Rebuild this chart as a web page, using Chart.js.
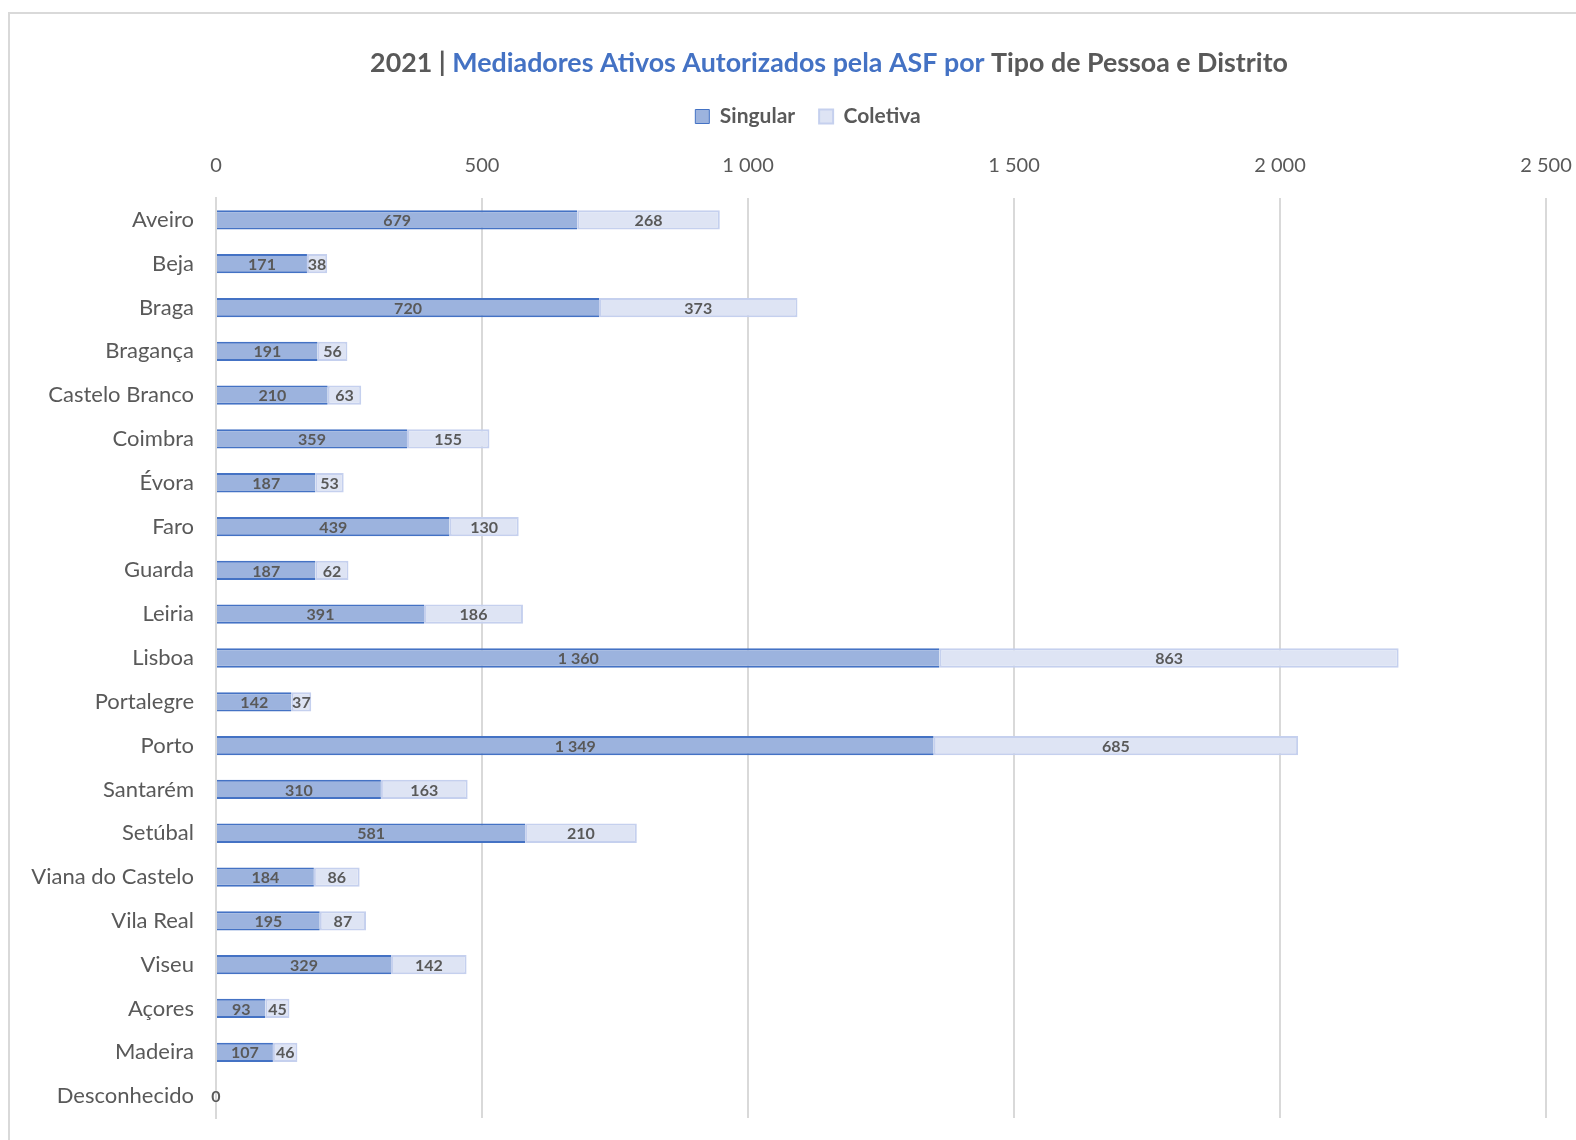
<!DOCTYPE html>
<html>
<head>
<meta charset="utf-8">
<script src="https://cdn.jsdelivr.net/npm/chart.js@4.4.1/dist/chart.umd.min.js"></script>
<style>
  body { margin: 0; background: #fff; }
  #frame { position: absolute; left: 8px; top: 12px; width: 1700px; height: 1300px;
           border-left: 2px solid #d9d9d9; border-top: 2px solid #d9d9d9; }
  #chart { position: absolute; left: 0; top: 0; }
</style>
</head>
<body>
<div id="frame"></div>
<canvas id="chart" width="1576" height="1140"></canvas>
<script>
const districts = ['Aveiro', 'Beja', 'Braga', 'Bragança', 'Castelo Branco', 'Coimbra', 'Évora', 'Faro',
  'Guarda', 'Leiria', 'Lisboa', 'Portalegre', 'Porto', 'Santarém', 'Setúbal', 'Viana do Castelo',
  'Vila Real', 'Viseu', 'Açores', 'Madeira', 'Desconhecido'];
const singular = [679, 171, 720, 191, 210, 359, 187, 439, 187, 391, 1360, 142, 1349, 310, 581, 184, 195, 329, 93, 107, 0];
const coletiva = [268, 38, 373, 56, 63, 155, 53, 130, 62, 186, 863, 37, 685, 163, 210, 86, 87, 142, 45, 46, null];
const xTicks = [0, 500, 1000, 1500, 2000, 2500];

const titleParts = [
  { text: '2021 | ', color: '#595959' },
  { text: 'Mediadores Ativos Autorizados pela ASF por ', color: '#4472C4' },
  { text: 'Tipo de Pessoa e Distrito', color: '#595959' }
];

const grey = '#595959';
const fmt = v => String(v).replace(/\B(?=(\d{3})+(?!\d))/g, ' ');

// title with mixed colours
const titlePlugin = {
  id: 'mixedTitle',
  afterLayout(chart) {
    // legend sits a little right of the canvas centre in the original
    chart.legend.left += 35;
    chart.legend.right += 35;
    chart.legend.top += 3;
    chart.legend.bottom += 3;
  },
  afterDraw(chart) {
    const ctx = chart.ctx;
    ctx.save();
    ctx.font = 'bold 26.8px Lato';
    ctx.textBaseline = 'middle';
    const total = titleParts.reduce((s, p) => s + ctx.measureText(p.text).width, 0);
    let x = 829 - total / 2;
    titleParts.forEach(p => {
      ctx.fillStyle = p.color;
      ctx.fillText(p.text, x, 63);
      x += ctx.measureText(p.text).width;
    });
    ctx.restore();
  }
};

// value labels in the middle of each segment
const labelPlugin = {
  id: 'segLabels',
  afterDatasetsDraw(chart) {
    const ctx = chart.ctx;
    ctx.save();
    ctx.font = 'bold 16px Lato';
    ctx.fillStyle = grey;
    ctx.textAlign = 'center';
    ctx.textBaseline = 'middle';
    chart.data.datasets.forEach((ds, i) => {
      const meta = chart.getDatasetMeta(i);
      meta.data.forEach((el, j) => {
        const v = ds.data[j];
        if (v === null || v === undefined) return;
        ctx.fillText(fmt(v), (el.x + el.base) / 2, el.y + 1);
      });
    });
    ctx.restore();
  }
};

new Chart(document.getElementById('chart'), {
  type: 'bar',
  data: {
    labels: districts,
    datasets: [{
      label: 'Singular',
      data: singular,
      backgroundColor: '#9cb3de',
      borderColor: '#4472C4',
      borderWidth: { top: 2, bottom: 2, left: 0, right: 0 },
      borderSkipped: false
    }, {
      label: 'Coletiva',
      data: coletiva,
      backgroundColor: '#dee4f4',
      borderColor: '#c5d0ee',
      borderWidth: 2,
      borderSkipped: false
    }]
  },
  options: {
    indexAxis: 'y',
    responsive: false,
    animation: false,
    layout: { padding: { top: 79, left: 0, right: 30, bottom: 22 } },
    datasets: { bar: { categoryPercentage: 1, barPercentage: 0.44 } },
    plugins: {
      title: { display: false },
      tooltip: { enabled: false },
      legend: {
        position: 'top',
        labels: {
          font: { family: 'Lato', size: 21, weight: 'bold' },
          color: grey,
          boxWidth: 14,
          boxHeight: 14,
          padding: 24
        }
      }
    },
    scales: {
      x: {
        position: 'top',
        stacked: true,
        min: 0,
        max: 2500,
        afterBuildTicks: s => { s.ticks = xTicks.map(v => ({ value: v })); },
        afterFit: s => { s.paddingLeft = 0; s.paddingRight = 0; },
        ticks: {
          font: { family: 'Lato', size: 20 },
          color: grey,
          padding: 20,
          maxRotation: 0,
          callback: v => fmt(v)
        },
        grid: { color: '#d9d9d9', lineWidth: 2, drawTicks: false },
        border: { display: false }
      },
      y: {
        stacked: true,
        afterFit: s => { s.width = 216; s.paddingTop = 0; s.paddingBottom = 0; },
        ticks: {
          font: { family: 'Lato', size: 22 },
          color: grey,
          padding: 22
        },
        grid: { display: false, drawTicks: false },
        border: { color: '#d9d9d9', width: 2 }
      }
    }
  },
  plugins: [titlePlugin, labelPlugin]
});
</script>
</body>
</html>
